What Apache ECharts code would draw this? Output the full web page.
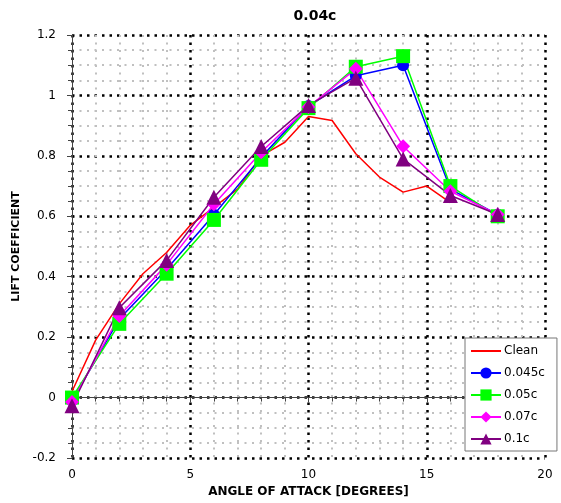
<!DOCTYPE html>
<html>
<head>
<meta charset="utf-8">
<script src="https://cdn.jsdelivr.net/npm/echarts@6/dist/echarts.min.js"></script>
<style>
    html, body {margin: 0; padding: 0; background: #fff;}
    #chart {width: 561px; height: 503px;}
</style>
</head>
<body>
<div id="chart"></div>
<script>
    // angle of attack, degrees
    const cleanAngles = [0, 1, 2, 3, 4, 5, 6, 7, 8, 9, 10, 11, 12, 13, 14, 15, 16]
    const cleanLift = [0.02, 0.19, 0.31, 0.41, 0.48, 0.57, 0.63, 0.69, 0.80, 0.845, 0.93, 0.917, 0.807, 0.73, 0.68, 0.70, 0.645]

    const angles = [0, 2, 4, 6, 8, 10, 12, 14, 16, 18]
    const lift045 = [-0.01, 0.26, 0.425, 0.605, 0.795, 0.965, 1.065, 1.10, 0.69, 0.605]
    const lift05 = [0.0, 0.244, 0.41, 0.588, 0.787, 0.958, 1.095, 1.13, 0.70, 0.60]
    const lift07 = [-0.015, 0.27, 0.44, 0.64, 0.812, 0.962, 1.088, 0.832, 0.683, 0.606]
    const lift1 = [-0.027, 0.297, 0.454, 0.663, 0.831, 0.967, 1.057, 0.79, 0.669, 0.606]

    const legendNames = ['Clean', '0.045c', '0.05c', '0.07c', '0.1c']

    const font = 'DejaVu Sans'

    const pairs = (xs, ys) => xs.map((x, i) => [x, ys[i]])

    const markerSeries = (name, data, color, symbol, size) => ({
        name: name,
        type: 'line',
        data: pairs(angles, data),
        symbol: symbol,
        symbolSize: size,
        showSymbol: true,
        lineStyle: {color: color, width: 1.5},
        itemStyle: {color: color},
        emphasis: {disabled: true},
    })

    const myChart = echarts.init(document.getElementById('chart'))

    const option = {
        animation: false,
        backgroundColor: '#fff',
        title: {
            text: '0.04c',
            left: 310,
            textAlign: 'center',
            top: 4,
            textStyle: {fontFamily: font, fontSize: 14, fontWeight: 'bold', color: '#000'}
        },
        grid: {left: 72, right: 16, top: 35, bottom: 45},
        legend: {
            orient: 'vertical',
            left: 465,
            top: 338,
            padding: [7, 12, 6, 5],
            itemGap: 10,
            itemWidth: 30,
            itemHeight: 14,
            backgroundColor: '#fff',
            borderColor: '#777',
            borderWidth: 1,
            textStyle: {fontFamily: font, fontSize: 12, color: '#000', padding: [0, 0, 0, -2]},
            data: legendNames.map((n, i) => i === 0 ? {name: n, itemStyle: {opacity: 0}} : n)
        },
        xAxis: {
            type: 'value',
            min: 0,
            max: 20,
            interval: 5,
            offset: 5,
            name: 'ANGLE OF ATTACK [DEGREES]',
            nameLocation: 'middle',
            nameGap: 23,
            nameTextStyle: {fontFamily: font, fontSize: 12, fontWeight: 'bold', color: '#000'},
            axisLine: {show: true, lineStyle: {color: '#444'}},
            axisTick: {show: true, length: 5, lineStyle: {color: '#444'}},
            minorTick: {show: true, splitNumber: 5, length: 4, lineStyle: {color: '#444'}},
            axisLabel: {fontFamily: font, fontSize: 12, color: '#000', margin: 6},
            splitLine: {show: true, lineStyle: {color: '#000', width: 2.5, type: [2.5, 5]}},
            minorSplitLine: {show: true, lineStyle: {color: '#c0c0c0', width: 2, type: [2, 5.5]}}
        },
        yAxis: {
            type: 'value',
            min: -0.2,
            max: 1.2,
            interval: 0.2,
            offset: 6,
            name: 'LIFT COEFFICIENT',
            nameLocation: 'middle',
            nameGap: 37,
            nameTextStyle: {fontFamily: font, fontSize: 11, fontWeight: 'bold', color: '#000'},
            axisLine: {show: true, lineStyle: {color: '#444'}},
            axisTick: {show: true, length: 5, lineStyle: {color: '#444'}},
            minorTick: {show: true, splitNumber: 4, length: 4, lineStyle: {color: '#444'}},
            axisLabel: {
                fontFamily: font, fontSize: 12, color: '#000', margin: 10,
                formatter: v => String(Math.round(v * 10) / 10)
            },
            splitLine: {show: true, lineStyle: {color: '#000', width: 2.5, type: [2.5, 5]}},
            minorSplitLine: {show: true, lineStyle: {color: '#c0c0c0', width: 2, type: [2, 5.5]}}
        },
        series: [
            {
                name: 'Clean',
                type: 'line',
                data: pairs(cleanAngles, cleanLift),
                symbol: 'none',
                lineStyle: {color: '#ff0000', width: 1.5},
                itemStyle: {color: '#ff0000'},
                emphasis: {disabled: true},
            },
            markerSeries('0.045c', lift045, '#0000ff', 'circle', 12),
            markerSeries('0.05c', lift05, '#00ff00', 'rect', 14),
            markerSeries('0.07c', lift07, '#ff00ff', 'diamond', 14),
            markerSeries('0.1c', lift1, '#800080', 'triangle', 15),
        ]
    }
    myChart.setOption(option)
</script>
</body>
</html>
